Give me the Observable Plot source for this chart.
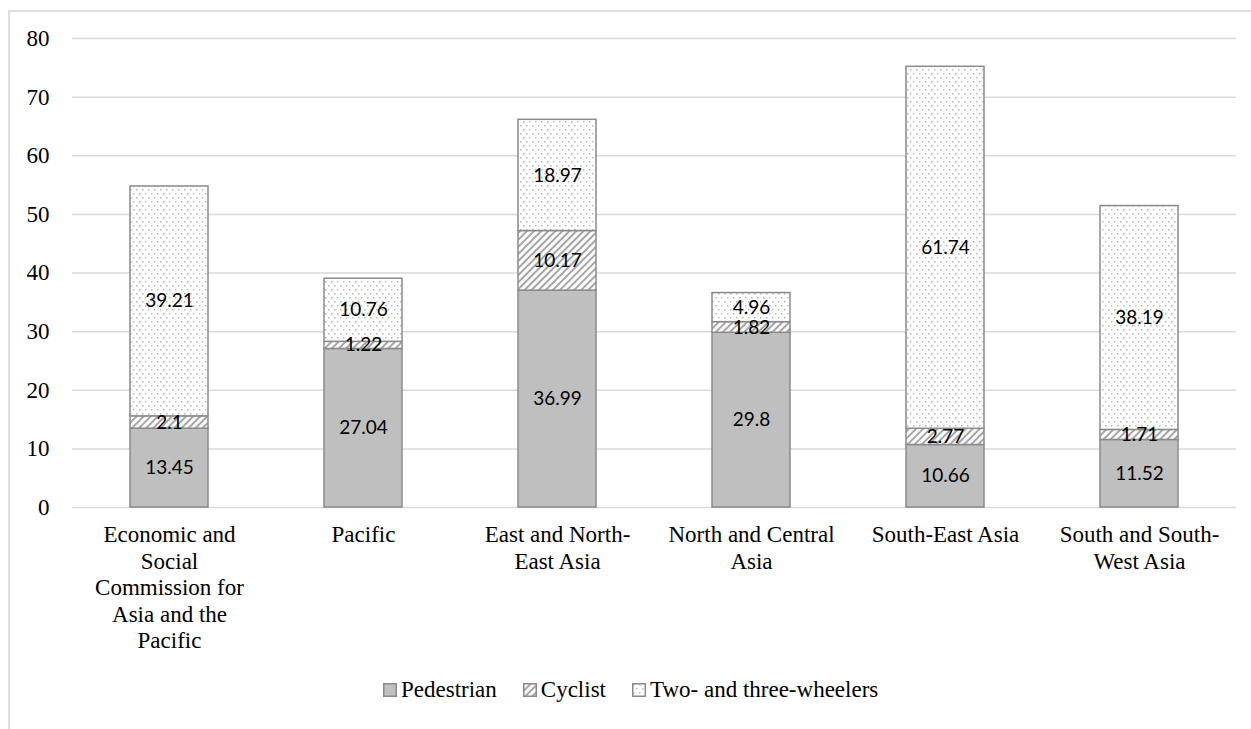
<!DOCTYPE html>
<html>
<head>
<meta charset="utf-8">
<script src="https://cdn.jsdelivr.net/npm/d3@7"></script>
<script src="https://cdn.jsdelivr.net/npm/@observablehq/plot@0.6"></script>
<style>
  html, body { margin: 0; padding: 0; background: #fff; width: 1251px; height: 729px; overflow: hidden; }
  #frame { position: absolute; left: 8px; top: 10px; width: 1300px; height: 800px; border: 2px solid #dedede; box-sizing: border-box; }
  #chart { position: absolute; left: 0; top: 0; }
  #legend { position: absolute; left: 383px; top: 677px; display: flex; align-items: center; font-family: "Liberation Serif", "Times New Roman", serif; font-size: 23px; color: #000; white-space: nowrap; }
  #legend .item { display: flex; align-items: center; margin-right: 26px; }
  #legend svg { margin-right: 4px; }
</style>
</head>
<body>
<svg width="0" height="0" style="position:absolute">
  <defs>
    <pattern id="hatch" patternUnits="userSpaceOnUse" width="5" height="5" patternTransform="rotate(45)">
      <rect width="5" height="5" fill="#ffffff"/>
      <line x1="1" y1="0" x2="1" y2="5" stroke="#a6a6a6" stroke-width="2"/>
    </pattern>
    <pattern id="dots" patternUnits="userSpaceOnUse" width="6" height="8">
      <rect width="6" height="8" fill="#ffffff"/>
      <rect x="1" y="1" width="1.5" height="1.5" fill="#b8b8b8"/>
      <rect x="4" y="5" width="1.5" height="1.5" fill="#b8b8b8"/>
    </pattern>
  </defs>
</svg>
<div id="frame"></div>
<div id="chart"></div>
<div id="legend"></div>
<script>
const regions = [
  "Economic and Social Commission for Asia and the Pacific",
  "Pacific",
  "East and North-East Asia",
  "North and Central Asia",
  "South-East Asia",
  "South and South-West Asia"
];
const tickLabels = [
  "Economic and\nSocial\nCommission for\nAsia and the\nPacific",
  "Pacific",
  "East and North-\nEast Asia",
  "North and Central\nAsia",
  "South-East Asia",
  "South and South-\nWest Asia"
];
const seriesNames = ["Pedestrian", "Cyclist", "Two- and three-wheelers"];
const pedestrian = [13.45, 27.04, 36.99, 29.8, 10.66, 11.52];
const cyclist = [2.1, 1.22, 10.17, 1.82, 2.77, 1.71];
const twoThreeWheelers = [39.21, 10.76, 18.97, 4.96, 61.74, 38.19];
const yTicks = [0, 10, 20, 30, 40, 50, 60, 70, 80];

const seriesFills = ["#bfbfbf", "url(#hatch)", "url(#dots)"];
const serif = "Liberation Serif, Times New Roman, serif";

const valuesBySeries = [pedestrian, cyclist, twoThreeWheelers];
const rows = [];
regions.forEach((r, i) => {
  seriesNames.forEach((s, j) => {
    rows.push({region: r, type: s, value: valuesBySeries[j][i]});
  });
});

const W = 1251, H = 660;
const chart = Plot.plot({
  width: W,
  height: H,
  marginLeft: 72,
  marginRight: 15,
  marginTop: 38,
  marginBottom: H - 507,
  style: {fontFamily: serif, fontSize: "23px", color: "#000", background: "transparent"},
  x: {type: "band", domain: regions, paddingInner: 0.6, paddingOuter: 0.3, label: null},
  y: {domain: [0, 80], label: null},
  color: {type: "ordinal", domain: seriesNames, range: seriesFills},
  marks: [
    Plot.ruleY(yTicks, {stroke: "#d9d9d9", strokeWidth: 1.5}),
    Plot.barY(rows, {x: "region", y: "value", fill: "type", z: "type", stroke: "#8a8a8a", strokeWidth: 1.5}),
    Plot.text(rows, Plot.stackY({x: "region", y: "value", z: "type", text: d => String(d.value), fontFamily: "Lato, Open Sans, sans-serif", fontSize: 19, fill: "#000"})),
    Plot.axisY({ticks: yTicks, tickSize: 0, tickPadding: 23, label: null, fontSize: 23, fontFamily: serif, fill: "#000"}),
    Plot.axisX({tickSize: 0, tickPadding: 16, label: null, fontSize: 23, fontFamily: serif, fill: "#000", lineHeight: 1.15, tickFormat: d => tickLabels[regions.indexOf(d)]})
  ]
});
document.getElementById("chart").appendChild(chart);

const legend = document.getElementById("legend");
seriesNames.forEach((s, j) => {
  const item = document.createElement("div");
  item.className = "item";
  item.innerHTML = `<svg width="14" height="14"><rect x="0.75" y="0.75" width="12.5" height="12.5" fill="${seriesFills[j]}" stroke="#8a8a8a" stroke-width="1.5"/></svg><span>${s}</span>`;
  legend.appendChild(item);
});
</script>
</body>
</html>
